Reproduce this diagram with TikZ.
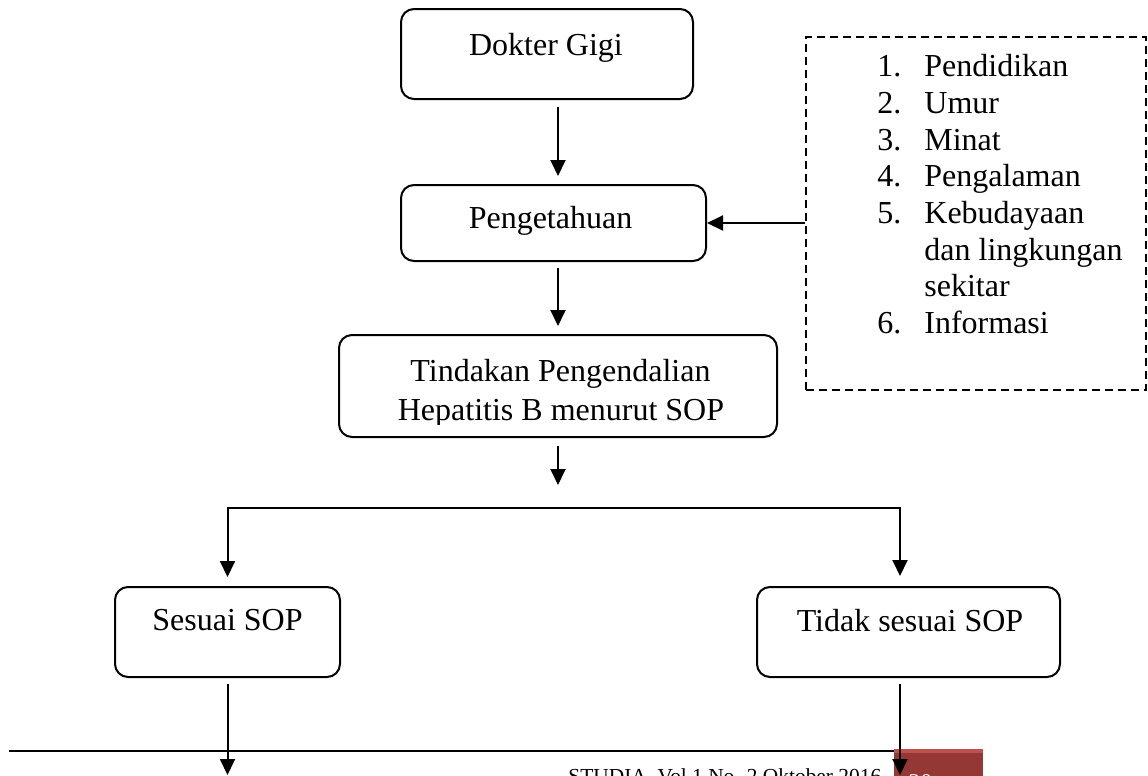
\documentclass[tikz,border=0pt]{standalone}
\usepackage{fontspec}
\setmainfont{Liberation Serif}
\usetikzlibrary{arrows.meta,calc}
\definecolor{footred}{RGB}{149,55,53}
\definecolor{footredtop}{RGB}{192,80,77}

\begin{document}
\begin{tikzpicture}[x=0.5pt, y=-0.5pt,
  box/.style={draw, rounded corners=6.5pt, line width=1pt, inner sep=0pt},
  txt/.style={font=\fontsize{16}{18}\selectfont, anchor=base, inner sep=0pt},
  arr/.style={line width=1pt, -{Triangle[length=8pt,width=7.5pt]}}]

\useasboundingbox (0,0) rectangle (1148,776);

% Boxes
\node[box, minimum width=146pt, minimum height=45pt]   (dokter)   at (547,54)    {};
\node[box, minimum width=152.5pt, minimum height=38pt] (tahu)     at (553.5,223) {};
\node[box, minimum width=219pt, minimum height=51pt]   (tindakan) at (558,386)   {};
\node[box, minimum width=112.5pt, minimum height=45pt] (sesuai)   at (227.5,632) {};
\node[box, minimum width=151.5pt, minimum height=45pt] (tidak)    at (908.5,632) {};
\node[draw, line width=1pt, dash pattern=on 4pt off 2.5pt,
      minimum width=170pt, minimum height=176.5pt]     (faktor)   at (976,213.5) {};

% Box texts
\node[txt] (dokter-t) at (546,55)    {Dokter Gigi};
\node[txt] (tahu-t)   at (550.5,228) {Pengetahuan};
\begin{scope}
  \clip (339,335) rectangle (777,424);
  \node[txt] (tindakan-t1) at (560.5,381) {Tindakan Pengendalian};
  \node[txt] (tindakan-t2) at (561,420)   {Hepatitis B menurut SOP};
\end{scope}
\node[txt] (sesuai-t) at (227.5,630.5) {Sesuai SOP};
\node[txt] (tidak-t)  at (910,631)     {Tidak sesuai SOP};

% Factor list
\foreach \num/\entry [count=\k] in {1./Pendidikan, 2./Umur, 3./Minat, 4./Pengalaman,
    5./Kebudayaan, /dan lingkungan, /sekitar, 6./Informasi}{
  \node[txt, anchor=base west] (num\k)  at (877, {76.7+36.67*(\k-1)}) {\num};
  \node[txt, anchor=base west] (item\k) at (924, {76.7+36.67*(\k-1)}) {\entry};
}

% Footer
\draw[line width=1pt] (9,751) -- (894,751);
\fill[footred] (894,750) rectangle (983,790);
\fill[footredtop] (894,749) rectangle (983,753);
\node[font=\fontsize{10.7}{12}\selectfont, anchor=base west, inner sep=0pt] (footer) at (568,783)
  {STUDIA, Vol 1 No. 2 Oktober 2016};
\node[font=\fontsize{12}{14}\selectfont, text=white, anchor=base west, inner sep=0pt] (page) at (908,790) {30};

% Connectors
\draw[arr, shorten <=3.5pt, shorten >=4pt] (dokter.south -| tindakan.north) -- (tahu.north -| tindakan.north);
\draw[arr, shorten <=3pt, shorten >=4pt] (tahu.south -| tindakan.north) -- (tindakan.north);
\draw[arr] (faktor.west |- tahu.east) -- (tahu.east);

\coordinate (split) at (558,508);
\draw[arr, shorten <=4pt, shorten >=11.5pt] (tindakan.south) -- (split);

\coordinate (tidak-in) at ([xshift=-4.25pt]tidak.north);
\draw[line width=1pt, {Triangle[length=8pt,width=7.5pt]}-{Triangle[length=8pt,width=7.5pt]},
      shorten <=4.5pt, shorten >=5pt] (sesuai.north) |- (tidak-in |- split) -- (tidak-in);

\coordinate (sesuai-end) at ($(sesuai.south)+(0,97)$);
\draw[arr, shorten <=3pt] (sesuai.south) -- (sesuai-end);
\coordinate (tidak-end) at ($(tidak-in |- tidak.south)+(0,97)$);
\draw[arr, shorten <=3pt] (tidak-in |- tidak.south) -- (tidak-end);

\end{tikzpicture}
\end{document}
